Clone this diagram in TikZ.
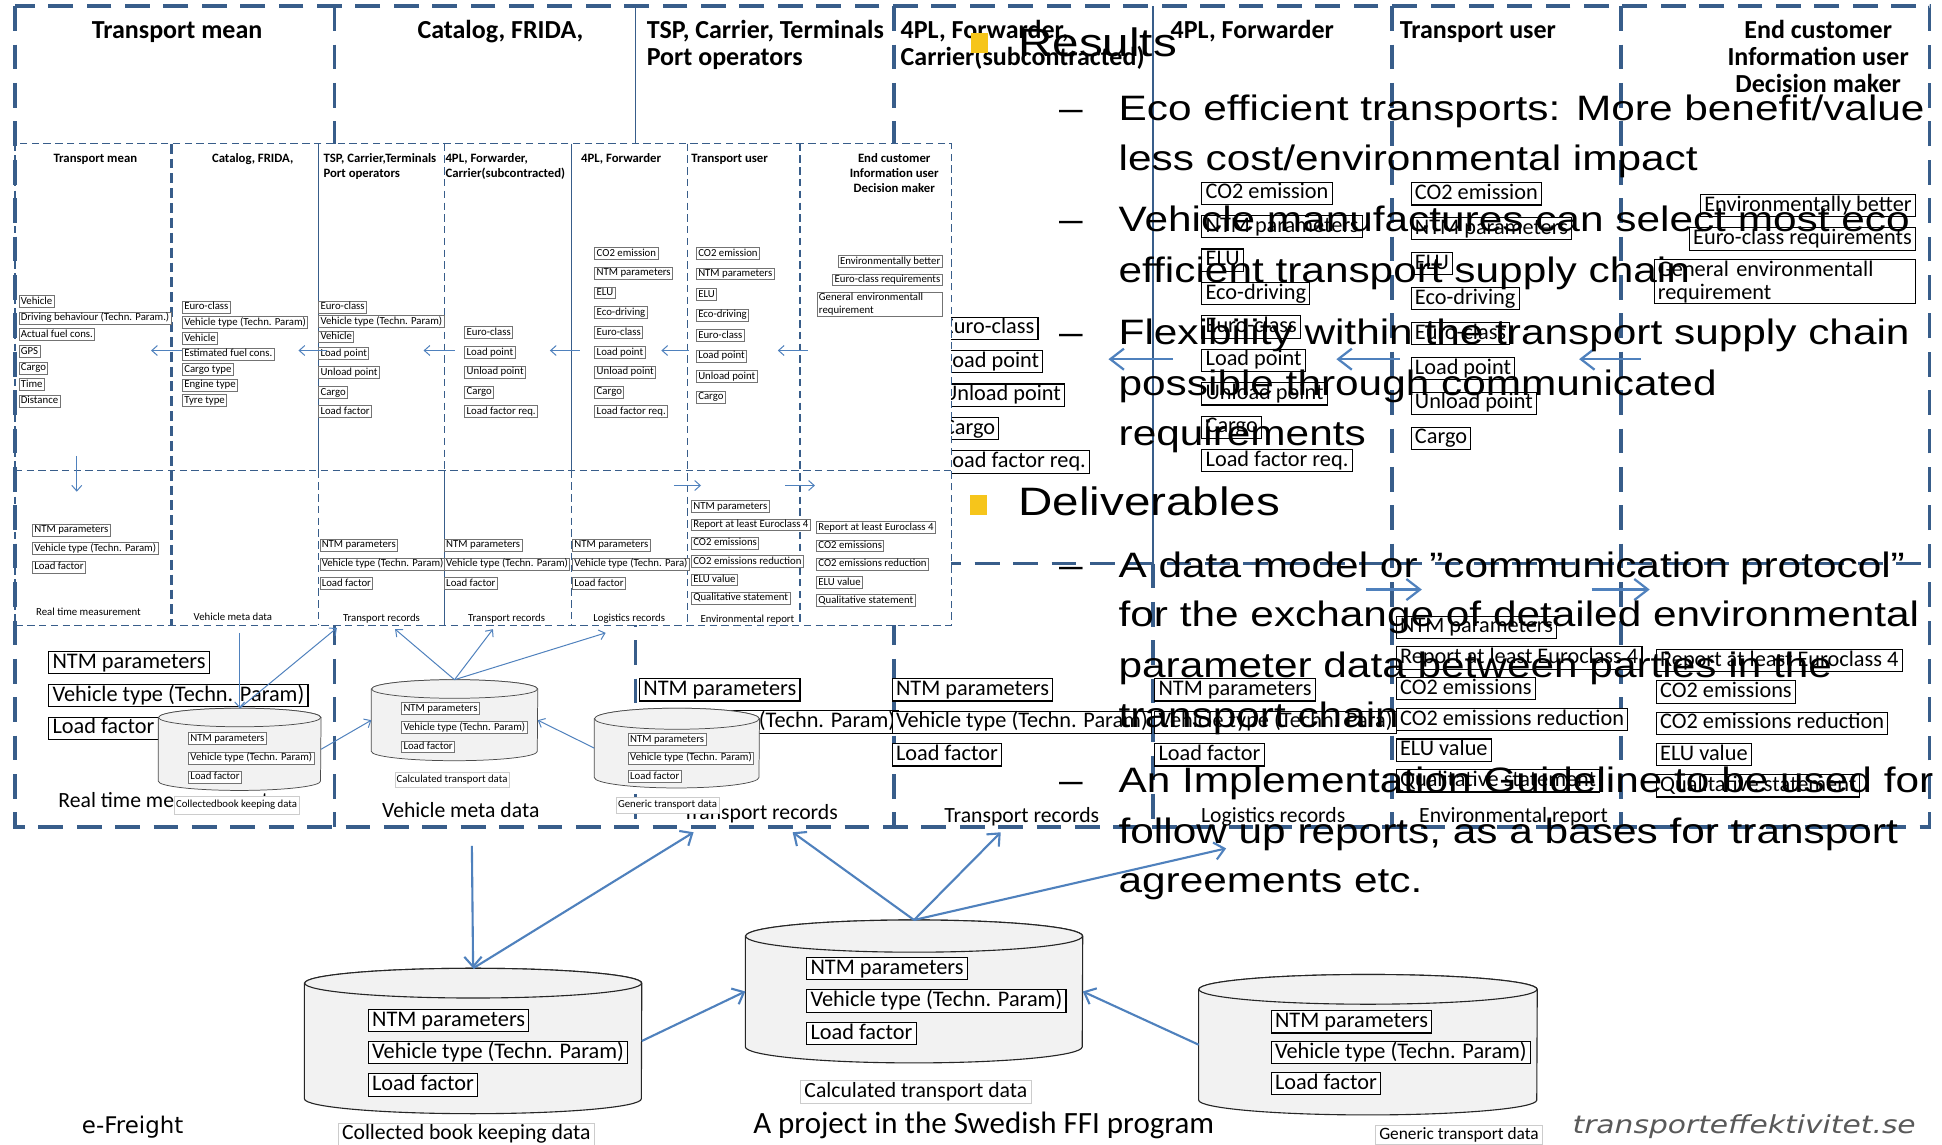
\documentclass[tikz,border=0pt]{standalone}
\usepackage{fontspec}
\setmainfont{Carlito}
\newfontfamily\slidefont[FakeStretch=1.2]{Liberation Sans}
\newfontfamily\freightfont{DejaVu Sans}
\newfontfamily\sitefont[FakeStretch=1.2]{DejaVu Sans}
\usetikzlibrary{positioning,arrows.meta,calc}
\definecolor{FrameBlue}{HTML}{385D8A}
\definecolor{ArrowBlue}{HTML}{4F81BD}
\definecolor{BulletGold}{HTML}{F6C51B}
\definecolor{DbFill}{HTML}{F2F2F2}
\definecolor{SiteGray}{HTML}{595959}

% database drum: node name, x radius, y radius, line style
\newcommand{\drawdb}[4]{%
  \draw[#4] ($(#1.north west)+(0,-#3)$) -- ($(#1.south west)+(0,#3)$)
    arc[start angle=180, end angle=360, x radius=#2, y radius=#3]
    -- ($(#1.north east)+(0,-#3)$)
    arc[start angle=0, end angle=180, x radius=#2, y radius=#3] -- cycle;
  \draw[#4] ($(#1.north)+(0,-#3)$) ellipse[x radius=#2, y radius=#3];}

\begin{document}
\begin{tikzpicture}[x=1pt, y=-1pt,
  bigframe/.style={FrameBlue, line width=3pt, dash pattern=on 20pt off 11pt},
  bigsolid/.style={FrameBlue, line width=1.2pt},
  smallframe/.style={FrameBlue, line width=1.1pt, dash pattern=on 6pt off 3.5pt},
  smallthick/.style={FrameBlue, line width=2.2pt, dash pattern=on 8pt off 4pt},
  smallsolid/.style={FrameBlue, line width=0.8pt},
  bitem/.style={draw=black, line width=0.9pt, fill=white, anchor=west, inner xsep=3pt, inner ysep=0.5pt, text height=13pt, text depth=4pt, font=\fontsize{18}{19}\selectfont},
  bmulti/.style={draw=black, line width=0.9pt, fill=white, inner xsep=3pt, inner ysep=1pt, align=left, font=\fontsize{18}{18.5}\selectfont},
  sitem/.style={draw=black!55, line width=0.6pt, fill=white, anchor=west, inner xsep=1.5pt, inner ysep=0.4pt, text height=6.6pt, text depth=2.2pt, font=\fontsize{8.7}{9}\selectfont},
  smulti/.style={draw=black!55, line width=0.6pt, fill=white, inner xsep=1.5pt, inner ysep=0.5pt, align=left, font=\fontsize{8.7}{10.5}\selectfont},
  bhead/.style={inner sep=0pt, font=\bfseries\fontsize{21}{22}\selectfont},
  shead/.style={inner sep=0pt, font=\bfseries\fontsize{10.3}{11}\selectfont},
  blabel/.style={inner sep=0pt, font=\fontsize{17.5}{18}\selectfont},
  slabel/.style={inner sep=0pt, font=\fontsize{8.7}{9}\selectfont},
  bdblabel/.style={draw=black!20, line width=0.6pt, fill=white, inner xsep=3pt, inner ysep=1pt, text height=12.5pt, text depth=4pt, font=\fontsize{17.5}{18}\selectfont},
  sdblabel/.style={draw=black!20, line width=0.4pt, fill=white, inner xsep=1.5pt, inner ysep=2pt, text height=6.4pt, text depth=2.2pt, font=\fontsize{8.7}{9}\selectfont},
  dbnode/.style={inner sep=0pt},
  dbline/.style={draw=black!85, fill=DbFill, line width=0.9pt},
  sdbline/.style={draw=black!70, fill=DbFill, line width=0.6pt},
  barrow/.style={ArrowBlue, line width=1.7pt, -{Straight Barb[length=8pt,width=14pt]}},
  bflow/.style={ArrowBlue, line width=1.8pt, -{Straight Barb[length=11pt,width=17pt]}},
  sarrow/.style={ArrowBlue, line width=0.8pt, -{Straight Barb[length=4.5pt,width=8pt]}},
  bulletsq/.style={fill=BulletGold, minimum width=14pt, minimum height=16pt, inner sep=0pt},
  slidehead/.style={anchor=base west, inner sep=0pt, font=\slidefont\fontsize{32}{38}\selectfont},
  slideline/.style={anchor=base west, inner sep=0pt, font=\slidefont\fontsize{28.5}{34}\selectfont}]

\useasboundingbox (0,0) rectangle (1568,924);
\fill[white] (0,0) rectangle (1568,924);

% large copy of the actor table
\draw[bigframe] (12,5) rectangle (1558,668);
\draw[bigframe] (270,5) -- (270,668);
\draw[bigsolid] (513,5) -- (513,455);
\draw[bigframe] (513,455) -- (513,668);
\draw[bigframe] (722,5) -- (722,668);
\draw[bigsolid] (931,5) -- (931,455);
\draw[bigframe] (931,455) -- (931,668);
\draw[bigframe] (1124,5) -- (1124,668);
\draw[bigframe] (1309,5) -- (1309,668);
\draw[bigframe] (12,455) -- (1558,455);

\node[bhead, anchor=base] (bhMean) at (143,31) {Transport mean};
\node[bhead, anchor=base] (bhCat) at (404,31) {Catalog, FRIDA,};
\node[bhead, anchor=base west] (bhTspA) at (522,31) {TSP, Carrier, Terminals};
\node[bhead, anchor=base west] (bhTspB) at (522,53) {Port operators};
\node[bhead, anchor=base west] (bhCarA) at (727,31) {4PL, Forwarder,};
\node[bhead, anchor=base west] (bhCarB) at (727,53) {Carrier(subcontracted)};
\node[bhead, anchor=base west] (bhFwd) at (945,31) {4PL, Forwarder};
\node[bhead, anchor=base west] (bhUser) at (1130,31) {Transport user};
\foreach \lbl [count=\i] in {End customer, Information user, Decision maker}
  \node[bhead, anchor=base] (bhEnd\i) at (1468,{9+22*\i}) {\lbl};

\foreach \lbl [count=\i] in {Euro-class, Load point, Unload point, Cargo, Load factor req.}
  \node[bitem] (bCar\i) at (758,{265+27*(\i-1)}) {\lbl};
\foreach \lbl [count=\i] in {CO2 emission, NTM parameters, ELU, Eco-driving, Euro-class, Load point, Unload point, Cargo, Load factor req.}
  \node[bitem] (bFw\i) at (970,{156+27*(\i-1)}) {\lbl};
\foreach \lbl [count=\i] in {CO2 emission, NTM parameters, ELU, Eco-driving, Euro-class, Load point, Unload point, Cargo}
  \node[bitem] (bUs\i) at (1139,{156.5+28.2*(\i-1)}) {\lbl};
\node[bitem, anchor=east] (bEc1) at (1547,166) {Environmentally better};
\node[bitem, anchor=east] (bEc2) at (1547,193) {Euro-class requirements};
\node[bmulti, anchor=north east, text width=205pt] (bEc3) at (1547,209) {General environmentall\\requirement};

\foreach \xa/\xb [count=\i] in {947/895, 1130/1079, 1325/1275} {
  \coordinate (bFlowA\i) at (\xa,290);
  \coordinate (bFlowB\i) at (\xb,290);
  \draw[bflow] (bFlowA\i) -- (bFlowB\i);
}
\foreach \xa/\xb [count=\i] in {1103/1148, 1285/1332} {
  \coordinate (bRepA\i) at (\xa,476);
  \coordinate (bRepB\i) at (\xb,476);
  \draw[bflow] (bRepA\i) -- (bRepB\i);
}

% large records row
\foreach \lbl [count=\i] in {NTM parameters, Vehicle type (Techn. Param), Load factor}
  \node[bitem] (bRt\i) at (39,{535+26.5*(\i-1)}) {\lbl};
\foreach \lbl [count=\i] in {NTM parameters, Vehicle type (Techn. Param), Load factor}
  \node[bitem] (bTr\i) at (516,{557+26*(\i-1)}) {\lbl};
\foreach \lbl [count=\i] in {NTM parameters, Vehicle type (Techn. Param), Load factor}
  \node[bitem] (bTs\i) at (720,{557+26.25*(\i-1)}) {\lbl};
\foreach \lbl [count=\i] in {NTM parameters, Vehicle type (Techn. Para), Load factor}
  \node[bitem] (bLr\i) at (932,{557+26.25*(\i-1)}) {\lbl};
\foreach \lbl [count=\i] in {NTM parameters, Report at least Euroclass 4, CO2 emissions, CO2 emissions reduction, ELU value, Qualitative statement}
  \node[bitem] (bEr\i) at (1127,{506.5+24.8*(\i-1)}) {\lbl};
\foreach \lbl [count=\i] in {Report at least Euroclass 4, CO2 emissions, CO2 emissions reduction, ELU value, Qualitative statement}
  \node[bitem] (bLa\i) at (1337,{533.5+25.25*(\i-1)}) {\lbl};

\node[blabel, anchor=base west] (bLblRt) at (47,652) {Real time measurement};
\node[blabel, anchor=base] (bLblMeta) at (372,660) {Vehicle meta data};
\node[blabel, anchor=base] (bLblTr) at (614,662) {Transport records};
\node[blabel, anchor=base] (bLblTs) at (825,664) {Transport records};
\node[blabel, anchor=base] (bLblLr) at (1028,664) {Logistics records};
\node[blabel, anchor=base] (bLblEr) at (1222,664) {Environmental report};

% large drums
\node[dbnode, minimum width=272pt, minimum height=117pt] (bdbBook) at (382,840.5) {};
\node[dbnode, minimum width=272pt, minimum height=115pt] (bdbCalc) at (738,800.5) {};
\node[dbnode, minimum width=273pt, minimum height=113pt] (bdbGen) at (1104.5,843.5) {};
\drawdb{bdbBook}{136pt}{12pt}{dbline}
\drawdb{bdbCalc}{136pt}{13pt}{dbline}
\drawdb{bdbGen}{136.5pt}{12pt}{dbline}
\foreach \lbl [count=\i] in {NTM parameters, Vehicle type (Techn. Param), Load factor}
  \node[bitem] (bBk\i) at (297,{824+26*(\i-1)}) {\lbl};
\foreach \lbl [count=\i] in {NTM parameters, Vehicle type (Techn. Param), Load factor}
  \node[bitem] (bCc\i) at (651,{782+26.25*(\i-1)}) {\lbl};
\foreach \lbl [count=\i] in {NTM parameters, Vehicle type (Techn. Param), Load factor}
  \node[bitem] (bGn\i) at (1026,{825+25*(\i-1)}) {\lbl};
\node[bdblabel] (bdbBookLbl) at (376.5,916) {Collected book keeping data};
\node[bdblabel] (bdbCalcLbl) at (739.5,881.5) {Calculated transport data};
\node[bdblabel, text height=10pt, text depth=3pt, font=\fontsize{14}{15}\selectfont] (bdbGenLbl) at (1178,916.5) {Generic transport data};

\coordinate (bFrameDrop) at (381,683);
\coordinate (bTrOne) at (560,672);
\coordinate (bTrTwo) at (640,672);
\coordinate (bTrThree) at (808,672);
\coordinate (bLogi) at (990,685);
\draw[barrow] (bFrameDrop) -- (bdbBook.north);
\draw[barrow] (bdbBook.north) -- (bTrOne);
\draw[barrow] (bdbBook.east) -- (bdbCalc.west);
\draw[barrow] (bdbGen.west) -- (bdbCalc.east);
\draw[barrow] (bdbCalc.north) -- (bTrTwo);
\draw[barrow] (bdbCalc.north) -- (bTrThree);
\draw[barrow] (bdbCalc.north) -- (bLogi);

% small copy of the actor table
\fill[white] (13.5,116) rectangle (768,505);
\draw[smallframe] (12,116) rectangle (768,505);
\draw[smallthick] (138.5,116) -- (138.5,505);
\draw[smallsolid] (257,116) -- (257,380);
\draw[smallframe] (257,380) -- (257,505);
\draw[smallframe] (359,116) -- (359,380);
\draw[smallsolid] (359,380) -- (359,505);
\draw[smallsolid] (461.5,116) -- (461.5,380);
\draw[smallframe] (461.5,380) -- (461.5,505);
\draw[smallframe] (555,116) -- (555,505);
\draw[smallframe] (646,116) -- (646,505);
\draw[smallframe] (12,380) -- (768,380);

\node[shead, anchor=base] (shMean) at (77,131.5) {Transport mean};
\node[shead, anchor=base] (shCat) at (204,131.5) {Catalog, FRIDA,};
\node[shead, anchor=base west] (shTspA) at (261,131.5) {TSP, Carrier,Terminals};
\node[shead, anchor=base west] (shTspB) at (261,143.5) {Port operators};
\node[shead, anchor=base west] (shCarA) at (359.5,131.5) {4PL, Forwarder,};
\node[shead, anchor=base west] (shCarB) at (359.5,143.5) {Carrier(subcontracted)};
\node[shead, anchor=base west] (shFwd) at (469,131.5) {4PL, Forwarder};
\node[shead, anchor=base west] (shUser) at (558,131.5) {Transport user};
\foreach \lbl [count=\i] in {End customer, Information user, Decision maker}
  \node[shead, anchor=base] (shEnd\i) at (722,{119.5+12*\i}) {\lbl};

\foreach \lbl [count=\i] in {Vehicle, Driving behaviour (Techn. Param.), Actual fuel cons., GPS, Cargo, Time, Distance}
  \node[sitem] (sMe\i) at (15,{243.5+13.4*(\i-1)}) {\lbl};
\foreach \lbl [count=\i] in {Euro-class, Vehicle type (Techn. Param), Vehicle, Estimated fuel cons., Cargo type, Engine type, Tyre type}
  \node[sitem] (sCa\i) at (147,{248+12.6*(\i-1)}) {\lbl};
\foreach \yy/\lbl [count=\i] in {248/Euro-class, 259.5/Vehicle type (Techn. Param), 272/Vehicle, 285.5/Load point, 301/Unload point, 317/Cargo, 332.5/Load factor}
  \node[sitem] (sTs\i) at (257,\yy) {\lbl};
\foreach \lbl [count=\i] in {Euro-class, Load point, Unload point, Cargo, Load factor req.}
  \node[sitem] (sCr\i) at (375,{268.5+16*(\i-1)}) {\lbl};
\foreach \lbl [count=\i] in {CO2 emission, NTM parameters, ELU, Eco-driving, Euro-class, Load point, Unload point, Cargo, Load factor req.}
  \node[sitem] (sFw\i) at (480,{204.5+16*(\i-1)}) {\lbl};
\foreach \lbl [count=\i] in {CO2 emission, NTM parameters, ELU, Eco-driving, Euro-class, Load point, Unload point, Cargo}
  \node[sitem] (sUs\i) at (562,{204.5+16.6*(\i-1)}) {\lbl};
\node[sitem, anchor=east] (sEc1) at (761,211) {Environmentally better};
\node[sitem, anchor=east] (sEc2) at (761,226) {Euro-class requirements};
\node[smulti, anchor=north east, text width=98pt] (sEc3) at (761,236) {General environmentall\\requirement};

\foreach \xa/\xb [count=\i] in {147/122, 264/241, 367/342, 468/444, 556/534, 652/628} {
  \coordinate (sFlowA\i) at (\xa,283);
  \coordinate (sFlowB\i) at (\xb,283);
  \draw[sarrow] (sFlowA\i) -- (sFlowB\i);
}
\foreach \xa/\xb [count=\i] in {544/566, 634/658} {
  \coordinate (sRepA\i) at (\xa,392);
  \coordinate (sRepB\i) at (\xb,392);
  \draw[sarrow] (sRepA\i) -- (sRepB\i);
}
\coordinate (sDropA) at (62,368);
\coordinate (sDropB) at (62,397);
\draw[sarrow] (sDropA) -- (sDropB);

\foreach \lbl [count=\i] in {NTM parameters, Vehicle type (Techn. Param), Load factor}
  \node[sitem] (sRt\i) at (26,{428+15*(\i-1)}) {\lbl};
\foreach \lbl [count=\i] in {NTM parameters, Vehicle type (Techn. Param), Load factor}
  \node[sitem] (sTr\i) at (258,{440+15.5*(\i-1)}) {\lbl};
\foreach \lbl [count=\i] in {NTM parameters, Vehicle type (Techn. Param), Load factor}
  \node[sitem] (sTt\i) at (358.5,{440+15.5*(\i-1)}) {\lbl};
\foreach \lbl [count=\i] in {NTM parameters, Vehicle type (Techn. Para), Load factor}
  \node[sitem] (sLr\i) at (462,{440+15.5*(\i-1)}) {\lbl};
\foreach \lbl [count=\i] in {NTM parameters, Report at least Euroclass 4, CO2 emissions, CO2 emissions reduction, ELU value, Qualitative statement}
  \node[sitem] (sEr\i) at (558,{409+14.8*(\i-1)}) {\lbl};
\foreach \lbl [count=\i] in {Report at least Euroclass 4, CO2 emissions, CO2 emissions reduction, ELU value, Qualitative statement}
  \node[sitem] (sLa\i) at (659,{426+14.75*(\i-1)}) {\lbl};

\node[slabel, anchor=base west] (sLblRt) at (29,497) {Real time measurement};
\node[slabel, anchor=base] (sLblMeta) at (188,501) {Vehicle meta data};
\node[slabel, anchor=base] (sLblTr) at (308,502) {Transport records};
\node[slabel, anchor=base] (sLblTt) at (409,502) {Transport records};
\node[slabel, anchor=base] (sLblLr) at (508,502) {Logistics records};
\node[slabel, anchor=base] (sLblEr) at (603.5,503) {Environmental report};

% small drums
\node[dbnode, minimum width=131pt, minimum height=66pt] (sdbBook) at (193.5,605) {};
\node[dbnode, minimum width=134pt, minimum height=65pt] (sdbCalc) at (367,581.5) {};
\node[dbnode, minimum width=133pt, minimum height=64pt] (sdbGen) at (546.5,604) {};
\drawdb{sdbBook}{65.5pt}{7.5pt}{sdbline}
\drawdb{sdbCalc}{67pt}{7.5pt}{sdbline}
\drawdb{sdbGen}{66.5pt}{8.5pt}{sdbline}
\foreach \lbl [count=\i] in {NTM parameters, Vehicle type (Techn. Param), Load factor}
  \node[sitem] (sBk\i) at (152,{596.5+15.5*(\i-1)}) {\lbl};
\foreach \lbl [count=\i] in {NTM parameters, Vehicle type (Techn. Param), Load factor}
  \node[sitem] (sCc\i) at (324,{572+15.5*(\i-1)}) {\lbl};
\foreach \lbl [count=\i] in {NTM parameters, Vehicle type (Techn. Param), Load factor}
  \node[sitem] (sGn\i) at (507,{597+15*(\i-1)}) {\lbl};
\node[sdblabel, inner ysep=3pt] (sdbBookLbl) at (191,650) {Collectedbook keeping data};
\node[sdblabel] (sdbCalcLbl) at (365,629.5) {Calculated transport data};
\node[sdblabel] (sdbGenLbl) at (539,650) {Generic transport data};

\coordinate (sFrameDrop) at (193.5,511);
\coordinate (sTrOne) at (272,507);
\coordinate (sTrTwo) at (319,508);
\coordinate (sTrThree) at (398,508);
\coordinate (sLogi) at (489,511);
\draw[sarrow] (sFrameDrop) -- (sdbBook.north);
\draw[sarrow] (sdbBook.north) -- (sTrOne);
\draw[sarrow] (sdbBook.east) -- (sdbCalc.west);
\draw[sarrow] (sdbGen.west) -- (sdbCalc.east);
\draw[sarrow] (sdbCalc.north) -- (sTrTwo);
\draw[sarrow] (sdbCalc.north) -- (sTrThree);
\draw[sarrow] (sdbCalc.north) -- (sLogi);

% slide text on top
\node[bulletsq] (bulRes) at (791,35) {};
\node[slidehead] (txtRes) at (822,46) {Results};
\node[slideline] (dashResA) at (855,97) {–};
\node[slideline] (resA1) at (903,97) {Eco efficient transports: More benefit/value};
\node[slideline] (resA2) at (903,138) {less cost/environmental impact};
\node[slideline] (dashResB) at (855,187) {–};
\node[slideline] (resB1) at (903,187) {Vehicle manufactures can select most eco};
\node[slideline] (resB2) at (903,228) {efficient transport supply chain};
\node[slideline] (dashResC) at (855,278) {–};
\node[slideline] (resC1) at (903,278) {Flexibility within the transport supply chain};
\node[slideline] (resC2) at (903,319) {possible through communicated};
\node[slideline] (resC3) at (903,360) {requirements};
\node[bulletsq] (bulDel) at (790,408) {};
\node[slidehead] (txtDel) at (822,416) {Deliverables};
\node[slideline] (dashDelA) at (855,466) {–};
\node[slideline] (delA1) at (903,466) {A data model or ”communication protocol”};
\node[slideline] (delA2) at (903,506) {for the exchange of detailed environmental};
\node[slideline] (delA3) at (903,547) {parameter data between parties in the};
\node[slideline] (delA4) at (903,587) {transport chain};
\node[slideline] (dashDelB) at (855,640) {–};
\node[slideline] (delB1) at (903,640) {An Implementation Guideline to be used for};
\node[slideline] (delB2) at (903,681) {follow up reports, as a bases for transport};
\node[slideline] (delB3) at (903,721) {agreements etc.};

% footer
\node[anchor=base west, inner sep=0pt, font=\freightfont\fontsize{18.5}{20}\selectfont] (ftFreight) at (66,915) {e-Freight};
\node[anchor=base west, inner sep=0pt, font=\fontsize{25}{26}\selectfont] (ftProject) at (608,915) {A project in the Swedish FFI program};
\node[anchor=base east, inner sep=0pt, text=SiteGray, font=\sitefont\itshape\fontsize{20}{22}\selectfont] (ftSite) at (1547,915) {transporteffektivitet.se};
\end{tikzpicture}
\end{document}
